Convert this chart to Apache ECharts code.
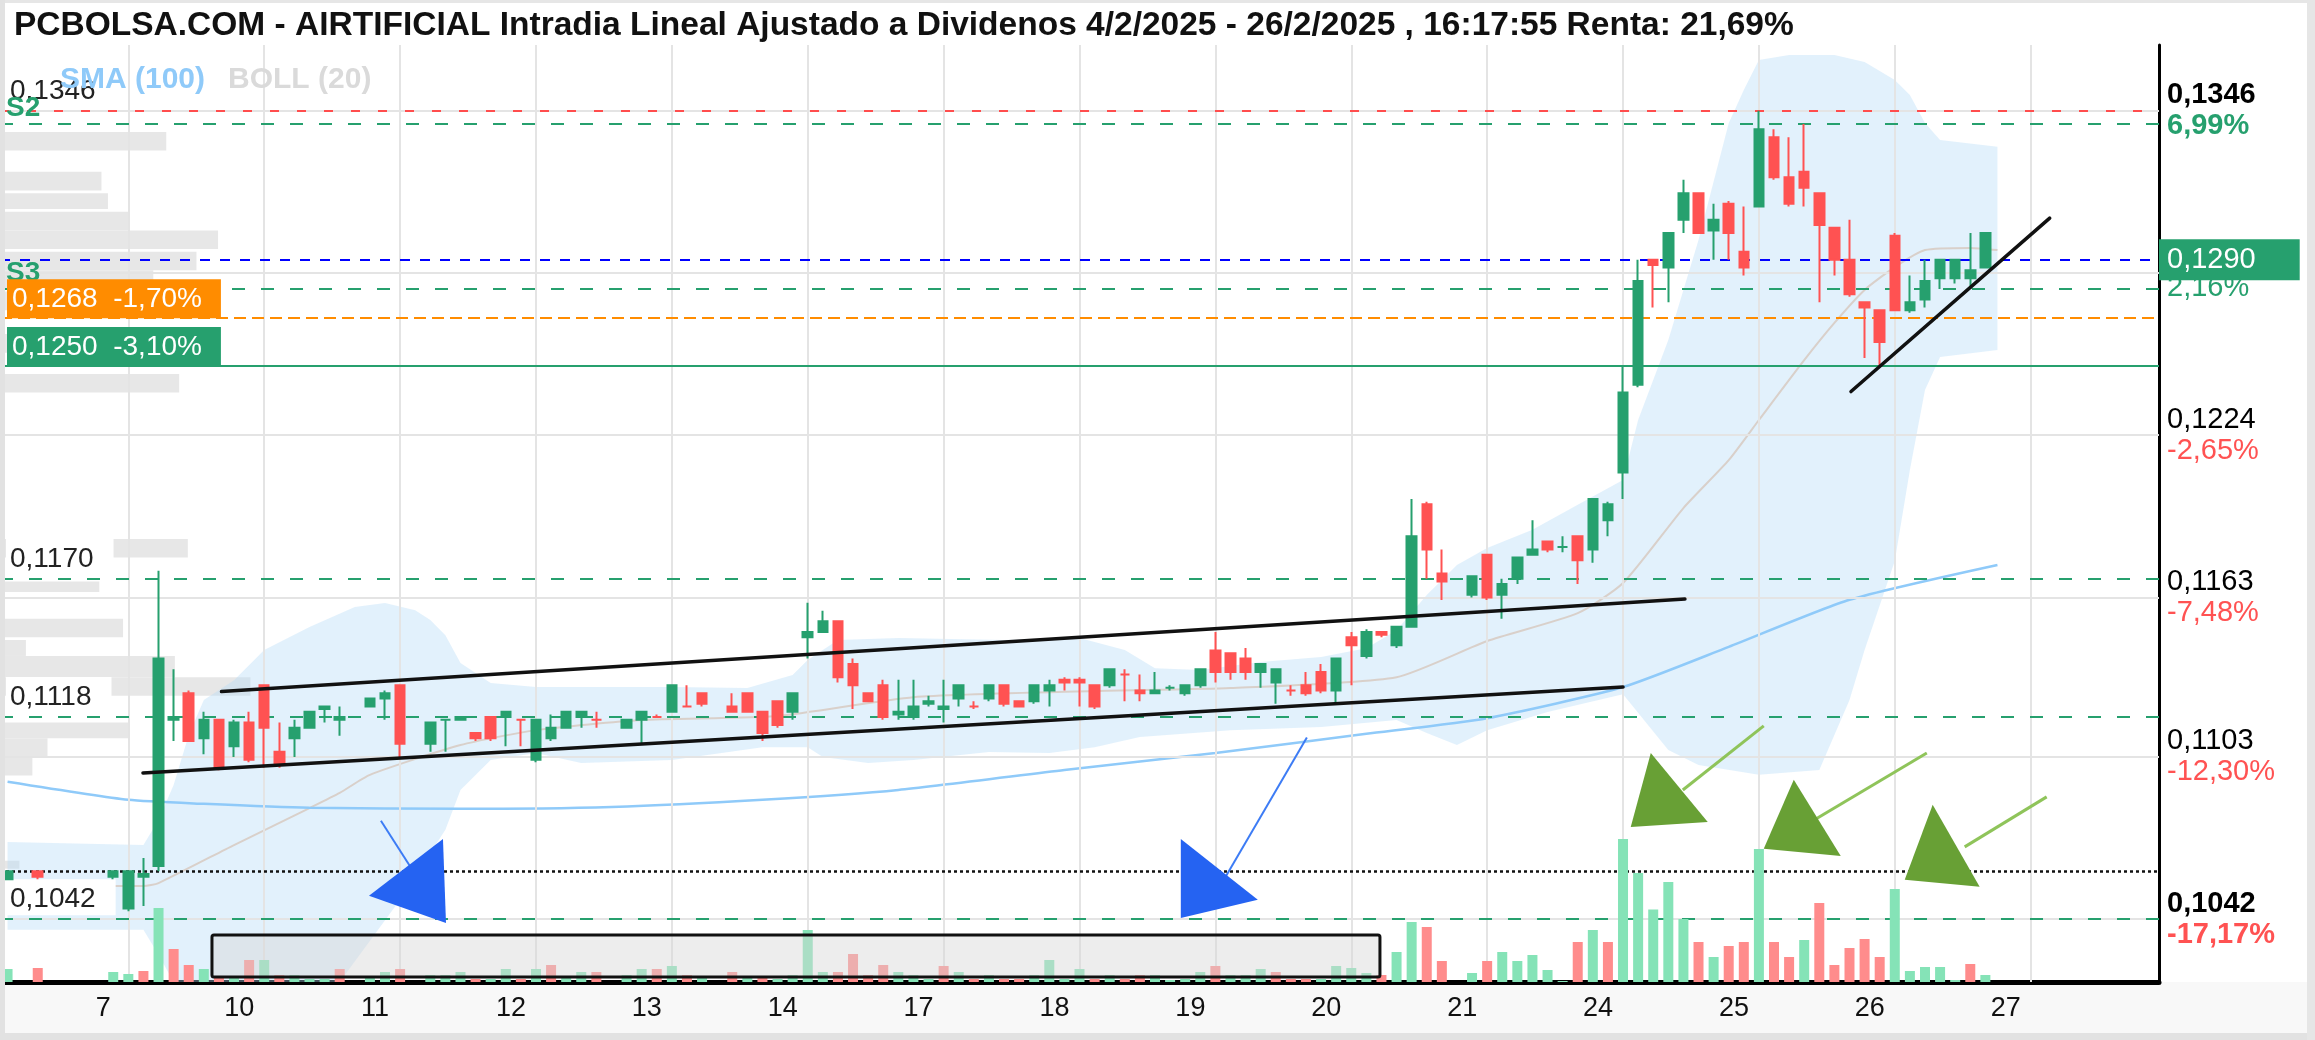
<!DOCTYPE html>
<html>
<head>
<meta charset="utf-8">
<script src="https://cdn.jsdelivr.net/npm/echarts@6/dist/echarts.min.js"></script>
<style>
html, body { margin: 0; padding: 0; background: #fff; }
#chart { width: 2315px; height: 1040px; }
</style>
</head>
<body>
<div id="chart"></div>
<script>
// ---- data ----
const dayLabels = ['6', '7', '10', '11', '12', '13', '14', '17', '18', '19', '20', '21', '24', '25', '26', '27'];
const hours = ['9h', '10h', '11h', '12h', '13h', '14h', '15h', '16h', '17h'];

// hourly candles [open, close, low, high]
const candles = [
  // 6
  [0.1057,0.1060,0.1057,0.1060], null, [0.1060,0.1058,0.1057,0.1060], null, null, null, null, [0.1058,0.1060,0.1057,0.1060],
  // 7
  [0.1046,0.1060,0.1045,0.1060],[0.1058,0.1059,0.1047,0.1065],[0.1062,0.1140,0.1060,0.1173],[0.1117,0.1118,0.1109,0.1136],[0.1127,0.1109,0.1109,0.1128],[0.1110,0.1117,0.1104,0.1120],[0.1117,0.1099,0.1098,0.1117],[0.1107,0.1116,0.1103,0.1117],[0.1116,0.1102,0.1101,0.1120],
  // 10
  [0.1130,0.1114,0.1099,0.1130],[0.1105,0.1100,0.1099,0.1116],[0.1110,0.1114,0.1103,0.1117],[0.1114,0.1120,0.1114,0.1120],[0.1121,0.1122,0.1116,0.1122],[0.1117,0.1118,0.1111,0.1122],null,[0.1122,0.1125,0.1122,0.1125],[0.1125,0.1127,0.1117,0.1128],
  // 11
  [0.1130,0.1108,0.1103,0.1130],null,[0.1108,0.1116,0.1105,0.1116],[0.1117,0.1117,0.1105,0.1117],[0.1117,0.1118,0.1117,0.1118],[0.1112,0.1110,0.1109,0.1112],[0.1118,0.1110,0.1109,0.1118],[0.1118,0.1120,0.1107,0.1120],[0.1117,0.1117,0.1107,0.1117],
  // 12
  [0.1102,0.1117,0.1101,0.1117],[0.1110,0.1114,0.1109,0.1119],[0.1114,0.1120,0.1114,0.1120],[0.1118,0.1120,0.1114,0.1120],[0.1117,0.1117,0.1114,0.1120],null,[0.1114,0.1117,0.1114,0.1117],[0.1117,0.1120,0.1108,0.1120],[0.1118,0.1118,0.1118,0.1119],
  // 13
  [0.1120,0.1130,0.1120,0.1130],[0.1122,0.1122,0.1122,0.1130],[0.1127,0.1123,0.1122,0.1127],null,[0.1122,0.1120,0.1120,0.1127],[0.1127,0.1120,0.1120,0.1127],[0.1120,0.1112,0.1109,0.1120],[0.1124,0.1115,0.1114,0.1124],[0.1120,0.1127,0.1117,0.1127],
  // 14
  [0.1148,0.1150,0.1140,0.1161],[0.1150,0.1154,0.1150,0.1158],[0.1154,0.1133,0.1131,0.1154],[0.1138,0.1130,0.1121,0.1140],[0.1127,0.1124,0.1124,0.1127],[0.1130,0.1118,0.1117,0.1132],[0.1119,0.1120,0.1117,0.1132],[0.1118,0.1122,0.1117,0.1132],[0.1123,0.1124,0.1122,0.1126],
  // 17
  [0.1121,0.1122,0.1116,0.1132],[0.1125,0.1130,0.1122,0.1130],[0.1122,0.1122,0.1121,0.1124],[0.1125,0.1130,0.1124,0.1130],[0.1130,0.1123,0.1122,0.1130],[0.1124,0.1122,0.1122,0.1124],[0.1124,0.1130,0.1123,0.1130],[0.1128,0.1130,0.1122,0.1132],[0.1132,0.1131,0.1128,0.1133],
  // 18
  [0.1132,0.1131,0.1122,0.1133],[0.1130,0.1122,0.1121,0.1130],[0.1130,0.1136,0.1129,0.1136],[0.1134,0.1134,0.1124,0.1136],[0.1128,0.1127,0.1124,0.1134],[0.1127,0.1128,0.1127,0.1135],[0.1129,0.1129,0.1128,0.1130],[0.1127,0.1130,0.1126,0.1130],[0.1130,0.1136,0.1129,0.1136],
  // 19
  [0.1143,0.1135,0.1131,0.1150],[0.1142,0.1135,0.1132,0.1142],[0.1140,0.1135,0.1132,0.1144],[0.1135,0.1138,0.1129,0.1138],[0.1131,0.1136,0.1123,0.1136],[0.1128,0.1128,0.1126,0.1130],[0.1130,0.1127,0.1126,0.1135],[0.1135,0.1128,0.1127,0.1138],[0.1128,0.1140,0.1123,0.1140],
  // 20
  [0.1148,0.1145,0.1130,0.1150],[0.1141,0.1150,0.1140,0.1151],[0.1150,0.1149,0.1148,0.1150],[0.1145,0.1152,0.1144,0.1152],[0.1152,0.1186,0.1152,0.1200],[0.1198,0.1181,0.1170,0.1199],[0.1172,0.1169,0.1162,0.1181],null,[0.1164,0.1171,0.1163,0.1171],
  // 21
  [0.1179,0.1163,0.1162,0.1179],[0.1164,0.1168,0.1155,0.1170],[0.1170,0.1178,0.1168,0.1178],[0.1179,0.1181,0.1179,0.1192],[0.1184,0.1181,0.1180,0.1184],[0.1182,0.1182,0.1180,0.1186],[0.1186,0.1177,0.1168,0.1186],[0.1181,0.1200,0.1176,0.1200],[0.1192,0.1198,0.1186,0.1199],
  // 24
  [0.1210,0.1240,0.1200,0.1250],[0.1243,0.1282,0.1242,0.1290],[0.1290,0.1288,0.1272,0.1290],[0.1287,0.1300,0.1274,0.1300],[0.1305,0.1315,0.1300,0.1320],[0.1315,0.1300,0.1300,0.1315],[0.1301,0.1305,0.1290,0.1311],[0.1311,0.1300,0.1290,0.1312],[0.1293,0.1287,0.1284,0.1310],
  // 25
  [0.1310,0.1339,0.1310,0.1346],[0.1336,0.1321,0.1320,0.1339],[0.1321,0.1311,0.1310,0.1336],[0.1323,0.1317,0.1310,0.1341],[0.1315,0.1303,0.1274,0.1315],[0.1302,0.1290,0.1284,0.1302],[0.1290,0.1277,0.1276,0.1305],[0.1274,0.1272,0.1253,0.1274],[0.1271,0.1259,0.1250,0.1271],
  // 26
  [0.1299,0.1271,0.1271,0.1300],[0.1271,0.1274,0.1270,0.1284],[0.1275,0.1282,0.1272,0.1290],[0.1283,0.1290,0.1279,0.1290],[0.1283,0.1290,0.1281,0.1290],[0.1283,0.1286,0.1279,0.1300],[0.1287,0.1300,0.1287,0.1300]
];

// volume per candle (thousand shares)
const volumes = [
  130,0,140,0,0,0,0,100,
  80,110,740,330,170,130,50,40,220,
  220,70,70,30,30,130,0,40,100,
  130,0,70,70,100,30,30,130,30,
  130,170,40,100,100,0,70,130,130,
  160,70,40,0,100,40,40,30,70,
  520,100,100,280,70,170,100,70,30,
  160,100,30,70,30,30,70,220,30,
  130,30,70,30,70,70,20,30,100,
  160,70,70,130,100,30,30,30,160,
  140,90,70,300,600,550,210,0,90,
  210,300,210,270,120,10,400,520,400,
  1430,1090,725,1000,630,400,250,360,400,
  1330,400,250,420,790,170,340,430,250,
  930,110,150,150,20,180,70
];

// indicators, sampled [slot, price]
const sma100 = [[0,0.10937],[8,0.10869],[13,0.10854],[20,0.10839],[30,0.10835],[40,0.10842],[50,0.10869],[59,0.10906],[70,0.10981],[80,0.11045],[90,0.11117],[98,0.11176],[107,0.11293],[114,0.11444],[122,0.11621],[131.8,0.11752]];
const bollMid = [[0,0.10545],[9,0.10545],[10,0.10556],[15,0.10699],[20,0.10838],[22,0.10895],[24,0.10963],[30,0.11075],[35,0.11131],[42,0.11169],[51,0.11184],[60,0.11255],[72,0.11278],[81,0.11289],[92,0.11330],[98,0.11466],[104,0.11571],[107,0.11684],[111,0.11966],[114,0.12146],[116,0.12297],[119,0.12522],[121,0.12662],[123,0.12786],[125,0.12872],[127,0.12936],[130,0.12944],[131.8,0.12936]];
const bollUpper = [[0,0.10710],[9,0.10699],[10,0.10793],[11,0.10925],[12,0.11113],[13,0.11244],[15,0.11319],[17,0.11432],[20,0.11519],[23,0.11594],[25,0.11609],[27,0.11582],[28,0.11545],[29,0.11488],[30,0.11383],[32,0.11308],[35,0.11293],[44,0.11293],[49,0.11289],[52,0.11338],[53,0.11395],[55,0.11470],[59,0.11477],[66,0.11470],[71,0.11477],[74,0.11432],[76,0.11364],[79,0.11357],[83,0.11387],[87,0.11406],[90,0.11439],[92,0.11507],[94,0.11639],[96,0.11752],[98,0.11816],[101,0.11884],[104,0.11978],[107,0.12071],[108,0.12297],[110,0.12598],[112,0.12974],[114,0.13413],[115,0.13538],[116,0.13651],[118,0.13669],[121,0.13669],[123,0.13643],[125,0.13575],[126,0.13519],[127,0.13414],[128,0.13350],[131.8,0.13324]];
const bollLower = [[0,0.10380],[9,0.10380],[10,0.10286],[11,0.10117],[12,0.10005],[20,0.10005],[22,0.10173],[26,0.10493],[29,0.10756],[30,0.10906],[32,0.11019],[35,0.11045],[38,0.11007],[44,0.11019],[50,0.11067],[53,0.11067],[54,0.11030],[57,0.11007],[60,0.11019],[65,0.11049],[69,0.11045],[72,0.11067],[75,0.11105],[81,0.11131],[87,0.11143],[92,0.11169],[94,0.11120],[96,0.11075],[98,0.11131],[102,0.11199],[107,0.11266],[110,0.11056],[112,0.11000],[116,0.10963],[120,0.10981],[122,0.11244],[123,0.11432],[125,0.11767],[126,0.12109],[127,0.12410],[128,0.12534],[131.8,0.12560]];

// volume at price on the left [low, high, volume]
const volProfile = [[0.1331,0.1338,77],[0.1316,0.1323,47],[0.1309,0.1315,50],[0.1301,0.1308,60],[0.1294,0.1301,101],[0.1286,0.1293,91],[0.1279,0.1286,71],[0.1271,0.1278,60],[0.1255,0.1262,70],[0.1240,0.1247,83],[0.1178,0.1185,87],[0.1165,0.1169,46],[0.1148,0.1155,57],[0.1141,0.1147,12],[0.1133,0.1141,81],[0.1126,0.1133,116],[0.1110,0.1116,60],[0.1103,0.1110,22],[0.1096,0.1103,15],[0.1061,0.1064,9]];

// price levels drawn across the chart
const levelPrices = [0.1346, 0.1341, 0.1290, 0.1279, 0.1268, 0.1250, 0.1170, 0.1118, 0.1060, 0.1042];
const levelTexts = ['0,1346', 'S2', '0,1290', 'S3', '0,1268  -1,70%', '0,1250  -3,10%', '0,1170', '0,1118', '', '0,1042'];

// right scale
const yTicks = [0.1346, 0.1285, 0.1224, 0.1163, 0.1103, 0.1042];
const yTickPct = ['6,99%', '2,16%', '-2,65%', '-7,48%', '-12,30%', '-17,17%'];

// drawn annotations [slot, price]
const trendLines = [[[14.17,0.11276],[111.1,0.11624]], [[8.97,0.10970],[107.0,0.11293]], [[122.1,0.12404],[135.26,0.13056]]];
const rangeBox = [[13.54,0.10361],[90.9,0.10203]];
const arrowHeads = [
  [[28.84,0.10722],[23.94,0.10508],[29.04,0.10406]],
  [[77.71,0.10722],[82.81,0.10493],[77.71,0.10425]],
  [[108.84,0.11045],[107.51,0.10767],[112.61,0.10786]],
  [[118.31,0.10944],[116.32,0.10685],[121.42,0.10658]],
  [[127.51,0.10850],[125.66,0.10568],[130.62,0.10542]]
];
const arrowTails = [
  [[24.73,0.10790],[26.85,0.10602]],
  [[86.06,0.11103],[80.63,0.10575]],
  [[116.32,0.11147],[110.96,0.10906]],
  [[127.12,0.11045],[119.77,0.10797]],
  [[135.06,0.10880],[129.63,0.10692]]
];

// ---- chart ----
const FONT = 'Liberation Sans, Arial, sans-serif';
const UP = '#26a06e', DOWN = '#ff5252';
const UP_VOL = '#85e3b7', DOWN_VOL = '#ff8c8c';
const fmt = v => v.toFixed(4).replace('.', ',');

const slots = [];
dayLabels.forEach((d, k) => {
  (k === 0 ? hours.slice(1) : hours).forEach(h => slots.push(d + ' ' + h));
});
const isDayStart = v => v.endsWith(' 9h') && !v.startsWith('6 ');
const dayStarts = slots.map((s, i) => isDayStart(s) ? i : -1).filter(i => i >= 0);

const candleData = slots.map((s, i) => candles[i] ? candles[i] : ['-', '-', '-', '-']);
let prevClose = null;
const volData = slots.map((s, i) => {
  const c = candles[i];
  let col = UP_VOL;
  if (c) {
    if (prevClose !== null && c[1] < prevClose) col = DOWN_VOL;
    prevClose = c[1];
  }
  return { value: volumes[i] || 0, itemStyle: { color: col } };
});

const dash = (color, type, width) => ({ color: color, type: type, width: width || 2 });
const leftLabel = (extra) => Object.assign({
  show: true, position: 'insideStartTop', distance: [6, 4],
  fontFamily: FONT, fontSize: 28, color: '#222'
}, extra);
const levelStyle = [
  { line: dash('#ff4d4d', [9, 18]), label: leftLabel({ backgroundColor: '#fff', padding: [3, 18, 1, 4] }) },
  { line: dash(UP, [13, 16]), label: leftLabel({ color: UP, fontWeight: 'bold', distance: [6, 2] }) },
  { line: dash('#0000ff', [10, 10]), label: { show: true, position: 'end', distance: 0, fontFamily: FONT, fontSize: 29, color: '#fff', backgroundColor: UP, padding: [6, 44, 6, 8] } },
  { line: dash(UP, [13, 16]), label: leftLabel({ color: UP, fontWeight: 'bold', distance: [6, 2] }) },
  { line: dash('#ff8c00', [12, 6]), label: leftLabel({ color: '#fff', backgroundColor: '#ff8c00', padding: [6, 19, 5, 5], distance: [7, 0] }) },
  { line: dash(UP, 'solid'), label: leftLabel({ color: '#fff', backgroundColor: UP, padding: [6, 19, 5, 5], distance: [7, 0] }) },
  { line: dash(UP, [13, 16]), label: leftLabel({ backgroundColor: '#fff', padding: [6, 20, 2, 4] }) },
  { line: dash(UP, [13, 16]), label: leftLabel({ backgroundColor: '#fff', padding: [6, 20, 2, 4] }) },
  { line: dash('#111', [3, 3], 2.5), label: { show: false } },
  { line: dash(UP, [13, 16]), label: leftLabel({ backgroundColor: '#fff', padding: [6, 20, 2, 4] }) }
];

const tickLabel = (v, k) => {
  const strong = k === 0 || k === yTicks.length - 1;
  const pctColor = yTickPct[k].startsWith('-') ? '#ff5252' : UP;
  return {
    show: true, position: 'end', distance: 8,
    formatter: '{p|' + fmt(v) + '}\n{c|' + yTickPct[k] + '}',
    rich: {
      p: { fontFamily: FONT, fontSize: 29, lineHeight: 31, color: '#000', fontWeight: strong ? 'bold' : 'normal' },
      c: { fontFamily: FONT, fontSize: 29, lineHeight: 31, color: pctColor, fontWeight: strong ? 'bold' : 'normal' }
    }
  };
};

const option = {
  animation: false,
  backgroundColor: '#fff',
  textStyle: { fontFamily: FONT },
  title: {
    text: 'PCBOLSA.COM - AIRTIFICIAL Intradia Lineal Ajustado a Dividenos 4/2/2025 - 26/2/2025 , 16:17:55 Renta: 21,69%',
    left: 9, top: 4,
    textStyle: { fontFamily: FONT, fontSize: 33.5, fontWeight: 'bold', color: '#111' }
  },
  legend: {
    left: 50, top: 60, icon: 'none', itemWidth: 0, itemHeight: 0, itemGap: 18, selectedMode: false, z: 20,
    textStyle: { fontFamily: FONT, fontSize: 30, fontWeight: 'bold' },
    data: [
      { name: 'SMA (100)', textStyle: { color: '#8fcaf9' } },
      { name: 'BOLL (20)', textStyle: { color: '#dadada' } }
    ]
  },
  grid: { left: 0, right: 156, top: 45, bottom: 58 },
  xAxis: [
    {
      type: 'category', data: slots, boundaryGap: true,
      axisLine: { onZero: false, lineStyle: { color: '#000', width: 5 } },
      axisTick: { show: false },
      splitLine: { show: false },
      axisLabel: {
        interval: (i, v) => isDayStart(v),
        formatter: v => v.split(' ')[0],
        fontFamily: FONT, fontSize: 27, color: '#111', margin: 13,
        padding: [0, 50, 0, 0]
      }
    },
    { type: 'value', min: -0.5, max: slots.length - 0.5, show: false },
    { type: 'value', min: 0, max: 1000, show: false }
  ],
  yAxis: [
    {
      type: 'value', position: 'right', min: 0.10184, max: 0.13707, scale: true,
      axisLine: { show: true, onZero: false, lineStyle: { color: '#000', width: 3 } },
      axisTick: { show: false }, axisLabel: { show: false }, splitLine: { show: false }
    },
    { type: 'value', min: 0, max: 9370, show: false }
  ],
  graphic: [
    { type: 'rect', silent: true, z: -1, shape: { x: 0, y: 982, width: 2315, height: 52 }, style: { fill: '#f8f8f8' } },
    { type: 'rect', silent: true, z: -1, shape: { x: 0, y: 1033, width: 2315, height: 7 }, style: { fill: '#e2e2e2' } },
    { type: 'rect', silent: true, z: -1, shape: { x: 0, y: 0, width: 2315, height: 3 }, style: { fill: '#e6e6e6' } },
    { type: 'rect', silent: true, z: 30, shape: { x: 0, y: 0, width: 5, height: 1040 }, style: { fill: '#e2e2e2' } },
    { type: 'rect', silent: true, z: -1, shape: { x: 2307, y: 0, width: 8, height: 1040 }, style: { fill: '#e6e6e6' } }
  ],
  series: [
    {
      name: 'grid', type: 'line', xAxisIndex: 1, yAxisIndex: 0, data: [], z: 1, silent: true,
      markLine: {
        symbol: ['none', 'none'], silent: true, animation: false, precision: 6,
        lineStyle: { color: '#e4e4e4', width: 2, type: 'solid' },
        data: dayStarts.map(i => ({ xAxis: i, label: { show: false } }))
          .concat(yTicks.map((v, k) => ({ yAxis: v, label: tickLabel(v, k) })))
      }
    },
    {
      name: 'profile', type: 'custom', xAxisIndex: 2, yAxisIndex: 0, z: 2, silent: true,
      data: volProfile,
      encode: { x: 2, y: [0, 1] },
      renderItem: (params, api) => {
        const a = api.coord([0, api.value(1)]);
        const b = api.coord([api.value(2), api.value(0)]);
        return { type: 'rect', shape: { x: a[0], y: a[1], width: b[0] - a[0], height: b[1] - a[1] }, style: { fill: '#e7e7e7' } };
      }
    },
    {
      name: 'band', type: 'custom', xAxisIndex: 1, yAxisIndex: 0, z: 2, silent: true,
      data: [[0, bollMid[0][1]]],
      renderItem: (params, api) => {
        const cs = params.coordSys;
        const clampY = y => Math.max(cs.y, Math.min(cs.y + cs.height, y));
        const pts = bollUpper.map(d => api.coord(d))
          .concat(bollLower.slice().reverse().map(d => api.coord(d)))
          .map(p => [p[0], clampY(p[1])]);
        return { type: 'polygon', shape: { points: pts }, style: { fill: 'rgba(178,218,248,0.38)' } };
      }
    },
    {
      name: 'BOLL (20)', type: 'line', xAxisIndex: 1, yAxisIndex: 0, data: bollMid, z: 3, silent: true,
      showSymbol: false, smooth: 0.2, lineStyle: { color: '#d9d0ca', width: 2 }, itemStyle: { color: '#d9d0ca' }
    },
    {
      name: 'SMA (100)', type: 'line', xAxisIndex: 1, yAxisIndex: 0, data: sma100, z: 3, silent: true,
      showSymbol: false, smooth: 0.2, lineStyle: { color: '#8fcaf9', width: 2.5 }, itemStyle: { color: '#8fcaf9' }
    },
    {
      name: 'levels', type: 'line', xAxisIndex: 1, yAxisIndex: 0, data: [], z: 4, silent: true,
      markLine: {
        symbol: ['none', 'none'], silent: true, animation: false, precision: 6,
        data: levelPrices.map((v, k) => ({
          yAxis: v,
          lineStyle: levelStyle[k].line,
          label: Object.assign({ formatter: levelTexts[k] }, levelStyle[k].label)
        }))
      }
    },
    {
      name: 'volume', type: 'bar', xAxisIndex: 0, yAxisIndex: 1, z: 5, silent: true,
      barWidth: 10, data: volData
    },
    {
      name: 'range', type: 'custom', xAxisIndex: 1, yAxisIndex: 0, z: 6, silent: true,
      data: [rangeBox[0]],
      renderItem: (params, api) => {
        const a = api.coord(rangeBox[0]), b = api.coord(rangeBox[1]);
        return {
          type: 'rect', shape: { x: a[0], y: a[1], width: b[0] - a[0], height: b[1] - a[1], r: 2 },
          style: { fill: 'rgba(215,215,215,0.45)', stroke: '#111', lineWidth: 3 }
        };
      }
    },
    {
      name: 'price', type: 'candlestick', xAxisIndex: 0, yAxisIndex: 0, z: 7, silent: true,
      barWidth: 10, data: candleData,
      itemStyle: { color: UP, color0: DOWN, borderColor: UP, borderColor0: DOWN, borderWidth: 2 }
    },
    {
      name: 'trend', type: 'custom', xAxisIndex: 1, yAxisIndex: 0, z: 8, silent: true,
      data: trendLines.map(t => t[0]),
      renderItem: (params, api) => {
        const t = trendLines[params.dataIndex];
        const a = api.coord(t[0]), b = api.coord(t[1]);
        return { type: 'line', shape: { x1: a[0], y1: a[1], x2: b[0], y2: b[1] }, style: { stroke: '#111', lineWidth: 3.5, lineCap: 'round' } };
      }
    },
    {
      name: 'arrows', type: 'custom', xAxisIndex: 1, yAxisIndex: 0, z: 9, silent: true,
      data: arrowHeads.map(h => h[0]),
      renderItem: (params, api) => {
        const i = params.dataIndex;
        const blue = i < 2;
        const tail = arrowTails[i].map(d => api.coord(d));
        return {
          type: 'group',
          children: [
            { type: 'line', shape: { x1: tail[0][0], y1: tail[0][1], x2: tail[1][0], y2: tail[1][1] },
              style: { stroke: blue ? '#3d7cf5' : '#8fc45a', lineWidth: blue ? 2 : 3 } },
            { type: 'polygon', shape: { points: arrowHeads[i].map(d => api.coord(d)) },
              style: { fill: blue ? '#2563f2' : '#68a035' } }
          ]
        };
      }
    }
  ]
};

const chart = echarts.init(document.getElementById('chart'));
chart.setOption(option);
</script>
</body>
</html>
